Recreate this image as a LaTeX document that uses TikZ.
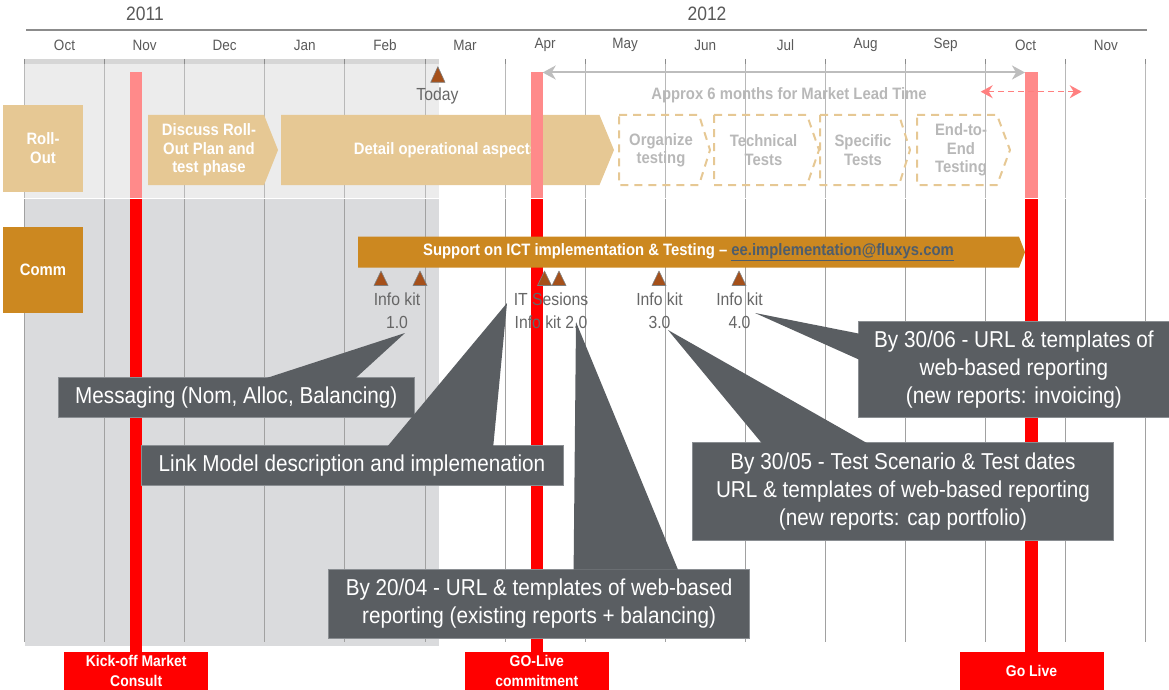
\documentclass[tikz,border=0pt]{standalone}
\usepackage{fontspec}
\setmainfont{Liberation Sans}[FakeStretch=0.9]
\usetikzlibrary{calc, arrows.meta}

\definecolor{pastlight}{HTML}{ECECEC}
\definecolor{pastdark}{HTML}{DADBDD}
\definecolor{pastband}{HTML}{D6D6D6}
\definecolor{axisgray}{HTML}{8C8C8C}
\definecolor{monthgray}{HTML}{595959}
\definecolor{rolltan}{HTML}{E6C894}
\definecolor{commbrown}{HTML}{CC8820}
\definecolor{plangray}{HTML}{B8B8B8}
\definecolor{barred}{HTML}{FF0000}
\definecolor{barpink}{HTML}{FF8A8A}
\definecolor{leadgray}{HTML}{BDBDBD}
\definecolor{slackpink}{HTML}{FF8080}
\definecolor{kitbrown}{HTML}{A5501A}
\definecolor{kitgray}{HTML}{666666}
\definecolor{calloutgray}{HTML}{5A5E62}
\definecolor{calloutedge}{HTML}{8A8E92}
\definecolor{linkslate}{HTML}{4E5D6C}

\tikzset{
    year/.style={font=\fontsize{19.4}{22}\selectfont, text=monthgray},
    month/.style={font=\fontsize{15}{18}\selectfont, text=monthgray},
    axisline/.style={draw=axisgray, line width=1.5pt},
    gridtick/.style={draw=gray!90, line width=1pt},
    gridlight/.style={draw=black!28, line width=1pt},
    griddark/.style={draw=black!37, line width=1pt},
    rowbox/.style={text=white, align=center, inner sep=0pt, minimum width=80pt,
        minimum height=86.6pt, font=\bfseries\fontsize{16.5}{19.3}\selectfont},
    phasetext/.style={text=white, align=center, font=\bfseries\fontsize{16.5}{18.3}\selectfont},
    plantext/.style={phasetext, text=plangray},
    planbox/.style={draw=rolltan, line width=2pt, dash pattern=on 8pt off 6pt, line join=round},
    leadarrow/.style={draw=leadgray, line width=2pt,
        {Stealth[length=13pt, width=14pt, inset=4pt]}-{Stealth[length=13pt, width=14pt, inset=4pt]}},
    slackarrow/.style={draw=slackpink, line width=1.5pt, dash pattern=on 6pt off 4pt,
        {Stealth[length=12pt, width=13pt, inset=4pt]}-{Stealth[length=12pt, width=13pt, inset=4pt]}},
    leadtext/.style={text=plangray, font=\bfseries\fontsize{16.5}{18}\selectfont},
    kitmark/.style={fill=kitbrown, draw=gray, line width=0.6pt, line join=round},
    kitlabel/.style={text=kitgray, align=center, font=\fontsize{17.5}{22.5}\selectfont},
    milestone/.style={fill=barred, text=white, align=center, inner sep=0pt, minimum width=144pt,
        minimum height=38pt, font=\bfseries\fontsize{15.5}{19.5}\selectfont},
    callout/.style={fill=calloutgray, draw=calloutedge, line width=0.8pt, text=white, align=center,
        inner sep=0pt, font=\fontsize{23}{28}\selectfont},
    pointer/.style={fill=calloutgray}
}

\begin{document}
\begin{tikzpicture}[x=1pt, y=-1pt]
    \useasboundingbox (0,0) rectangle (1169,690);

    % Period already passed
    \fill[pastlight] (25,60) rectangle (439,197.7);
    \fill[pastdark] (25,199.3) rectangle (439,646);
    \fill[pastband] (25,59) rectangle (439,64);

    % Years and months
    \node[year] (y2011) at (145,14) {2011};
    \node[year] (y2012) at (707,14) {2012};
    \draw[axisline] (26,30) -- (1146.5,30);
    \foreach \m [count=\i from 0] in {Oct,Nov,Dec,Jan,Feb,Mar,Apr,May,Jun,Jul,Aug,Sep,Oct,Nov}
        \node[month] (m\i) at (64.5+80.1*\i,45) {\m};

    % Month grid
    \foreach \i in {0,...,14} {
        \draw[gridtick] (24.5+80.1*\i,59) -- (24.5+80.1*\i,64);
        \draw[gridlight] (24.5+80.1*\i,64) -- (24.5+80.1*\i,197.7);
        \draw[griddark] (24.5+80.1*\i,199.3) -- (24.5+80.1*\i,642);
    }

    % Row headers
    \node[rowbox, fill=rolltan] (rollout) at (43,148.3) {Roll-\\Out};
    \node[rowbox, fill=commbrown] (comm) at (43,270) {Comm};

    % Roll-Out phases
    \fill[rolltan] (148,115) -- (264,115) -- (278,150) -- (264,185) -- (148,185) -- cycle; % Discuss
    \node[phasetext] (discuss) at (209,150) {Discuss Roll-\\Out Plan and\\test phase};
    \fill[rolltan] (281,115) -- (599.5,115) -- (614,150) -- (599.5,185) -- (281,185) -- cycle; % Detail
    \node[phasetext] (detail) at (446,150) {Detail operational aspects};

    \path[planbox] (619,115) -- (699,115) -- (710,150) -- (699,185) -- (619,185) -- cycle; % Organize
    \node[plantext] (organize) at (661,150) {Organize\\testing};
    \path[planbox] (714,115) -- (807,115) -- (819,150) -- (807,185) -- (714,185) -- cycle; % Technical
    \node[plantext] (technical) at (763.5,150) {Technical\\Tests};
    \path[planbox] (820,115) -- (899,115) -- (910,150) -- (899,185) -- (820,185) -- cycle; % Specific
    \node[plantext] (specific) at (863,150) {Specific\\Tests};
    \path[planbox] (917,115) -- (997,115) -- (1010,150) -- (997,185) -- (917,185) -- cycle; % End-to-End
    \node[plantext] (endtoend) at (961,150) {End-to-\\End\\Testing};

    % Milestone bars
    \fill[barpink] (130,72.3) rectangle (142.4,197.7);
    \fill[barred] (130,199.3) rectangle (142.4,652);
    \fill[barpink] (531,72.3) rectangle (542.7,197.7);
    \fill[barred] (531,199.3) rectangle (542.7,652);
    \fill[barpink] (1025,72.3) rectangle (1038,197.7);
    \fill[barred] (1025,199.3) rectangle (1038,652);

    % Market lead time
    \coordinate (committop) at (542.7,72.5);
    \coordinate (livetop) at (1025,72.5);
    \draw[leadarrow] (committop) -- (livetop);
    \node[leadtext] (leadtime) at (789,95) {Approx 6 months for Market Lead Time};
    \coordinate (slackL) at (980.7,91.7);
    \coordinate (slackR) at (1081.7,91.7);
    \draw[slackarrow] (slackL) -- (slackR);

    % Today
    \path[kitmark] (430.7,82.3) -- (445,82.3) -- (437.85,66.7) -- cycle;
    \node[kitlabel] (today) at (437.5,95.5) {Today};

    % Communication support
    \fill[commbrown] (358,236.7) -- (1019,236.7) -- (1025,252.2) -- (1019,267.7) -- (358,267.7) -- cycle;
    \node[phasetext] (support) at (688.5,252.2)
        {Support on ICT implementation \& Testing – \textcolor{linkslate}{\underline{ee.implementation@fluxys.com}}};

    % Info kit markers
    \foreach \x in {381,420,544.5,559,659,739}
        \path[kitmark] (\x-7,285.5) -- (\x+7,285.5) -- (\x,271) -- cycle;
    \node[kitlabel] (kit1) at (397,310.5) {Info kit\\1.0};
    \node[kitlabel] (kit2) at (551,310.5) {IT Sesions\\Info kit 2.0};
    \node[kitlabel] (kit3) at (659.5,310.5) {Info kit\\3.0};
    \node[kitlabel] (kit4) at (739.5,310.5) {Info kit\\4.0};

    % Milestone labels
    \node[milestone] (kickoff) at (136.2,671) {Kick-off Market\\Consult};
    \node[milestone] (commit) at (536.8,671) {GO-Live\\commitment};
    \node[milestone] (golive) at (1031.5,671) {Go Live};

    % Callouts
    \node[callout, minimum width=355.5pt, minimum height=39.6pt] (msg) at (236.3,397.5)
        {Messaging (Nom, Alloc, Balancing)};
    \coordinate (msgtip) at (405,333);
    \path[pointer] (msgtip) -- ($(msg.north west)+(208.2,0.8)$) -- ($(msg.north west)+(297.5,0.8)$) -- cycle;

    \node[callout, minimum width=422pt, minimum height=39.7pt] (link) at (352,465.2)
        {Link Model description and implemenation};
    \coordinate (linktip) at (507,303);
    \path[pointer] (linktip) -- ($(link.north west)+(247.4,0.8)$) -- ($(link.north west)+(352.7,0.8)$) -- cycle;

    \node[callout, minimum width=421.4pt, minimum height=69pt] (rep1) at (539.1,603.8)
        {By 20/04 - URL \& templates of web-based\\reporting (existing reports + balancing)};
    \coordinate (rep1tip) at (576,322);
    \path[pointer] (rep1tip) -- ($(rep1.north west)+(245.6,0.8)$) -- ($(rep1.north west)+(350,0.8)$) -- cycle;

    \node[callout, minimum width=420.7pt, minimum height=98pt] (rep2) at (903,491.7)
        {By 30/05 - Test Scenario \& Test dates\\URL \& templates of web-based reporting\\(new reports: cap portfolio)};
    \coordinate (rep2tip) at (668,330);
    \path[pointer] (rep2tip) -- ($(rep2.north west)+(69.5,0.8)$) -- ($(rep2.north west)+(174.7,0.8)$) -- cycle;

    \node[callout, minimum width=310.3pt, minimum height=96.3pt] (rep3) at (1013.9,369.2)
        {By 30/06 - URL \& templates of\\web-based reporting\\(new reports: invoicing)};
    \coordinate (rep3tip) at (755,313);
    \path[pointer] (rep3tip) -- ($(rep3.north west)+(0.8,13)$) -- ($(rep3.north west)+(0.8,39)$) -- cycle;

\end{tikzpicture}
\end{document}
